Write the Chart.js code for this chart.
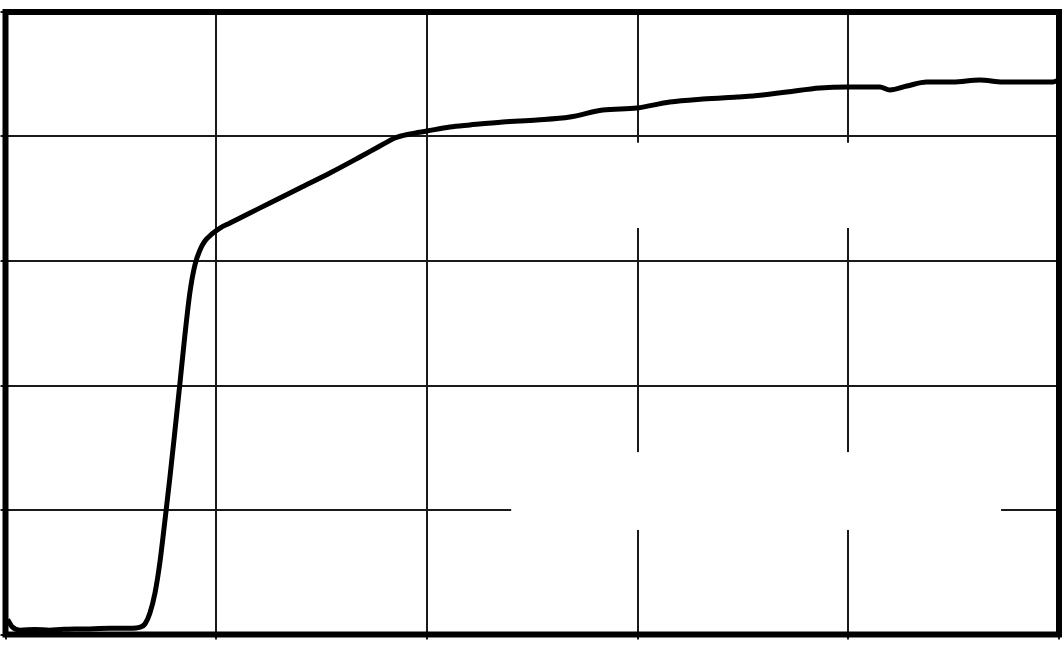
<!DOCTYPE html>
<html>
<head>
<meta charset="utf-8">
<script src="https://cdn.jsdelivr.net/npm/chart.js@4.4.0/dist/chart.umd.min.js"></script>
<style>
  html, body { margin: 0; padding: 0; background: #ffffff; }
  #wrap { width: 1064px; height: 645px; position: relative; }
</style>
</head>
<body>
<div id="wrap"><canvas id="c" width="1064" height="645"></canvas></div>
<script>
// Data (x in percent of the horizontal span, y in percent of the vertical span)
const xValues = [0.2, 0.6, 1.4, 2.8, 4.2, 5.2, 6.6, 8.0, 9.9, 11.8, 12.8, 13.24, 13.71, 14.19, 14.66, 15.14, 15.61, 16.09, 16.56, 17.03, 17.51, 17.98, 18.46, 18.93, 19.60, 20.36, 21.31, 23.20, 25.10, 27.95, 30.80, 33.64, 35.54, 36.97, 38.39, 40.00, 42.18, 44.08, 47.22, 50.44, 53.57, 56.70, 59.93, 63.06, 66.19, 69.42, 70.94, 74.17, 77.30, 79.86, 83.00, 83.94, 85.56, 87.45, 89.92, 92.48, 94.67, 96.95, 99.41, 100];
const yValues = [2.4, 1.3, 0.7, 0.8, 0.7, 0.8, 0.9, 0.9, 1.0, 1.0, 1.2, 1.69, 3.45, 6.67, 11.65, 18.39, 25.30, 32.85, 40.40, 48.11, 55.02, 59.36, 61.77, 63.21, 64.34, 65.30, 66.11, 67.71, 69.32, 71.73, 74.14, 76.71, 78.47, 79.76, 80.40, 80.88, 81.53, 81.85, 82.33, 82.65, 83.13, 84.26, 84.58, 85.54, 86.02, 86.35, 86.51, 87.15, 87.79, 87.95, 87.95, 87.47, 88.11, 88.76, 88.76, 89.08, 88.76, 88.76, 88.76, 89.08];
const xTicks = [0, 20, 40, 60, 80, 100];
const yTicks = [0, 20, 40, 60, 80, 100];
// Blank (erased) regions of the grid, in data units: [x0, x1, y0, y1]
const blankAreas = [[56, 84, 65.3, 79.0], [48.0, 94.5, 16.8, 29.3]];

const points = xValues.map((x, i) => ({ x: x, y: yValues[i] }));

const blankPlugin = {
  id: 'blank',
  beforeDatasetsDraw(chart) {
    const { ctx, scales: { x, y } } = chart;
    ctx.save();
    ctx.fillStyle = '#ffffff';
    blankAreas.forEach(([x0, x1, y0, y1]) => {
      const px0 = x.getPixelForValue(x0), px1 = x.getPixelForValue(x1);
      const py0 = y.getPixelForValue(y1), py1 = y.getPixelForValue(y0);
      ctx.fillRect(px0, py0, px1 - px0, py1 - py0);
    });
    ctx.restore();
  }
};

const framePlugin = {
  id: 'frame',
  afterDatasetsDraw(chart) {
    const { ctx, chartArea: a } = chart;
    ctx.save();
    ctx.strokeStyle = '#000000';
    ctx.lineWidth = 6;
    ctx.strokeRect(a.left, a.top, a.right - a.left, a.bottom - a.top);
    ctx.restore();
  }
};

new Chart(document.getElementById('c'), {
  type: 'line',
  data: {
    datasets: [{
      data: points,
      borderColor: '#000000',
      borderWidth: 5,
      pointRadius: 0,
      cubicInterpolationMode: 'monotone',
      fill: false
    }]
  },
  options: {
    responsive: false,
    animation: false,
    events: [],
    layout: { padding: { left: 0.5, top: 12, right: 5, bottom: 5.5 } },
    plugins: { legend: { display: false }, tooltip: { enabled: false } },
    scales: {
      x: {
        type: 'linear',
        min: 0, max: 100,
        afterBuildTicks: (s) => { s.ticks = xTicks.map(v => ({ value: v })); },
        ticks: { display: false },
        grid: { color: '#1a1a1a', lineWidth: 2, drawTicks: true, tickLength: 5 },
        border: { display: false }
      },
      y: {
        type: 'linear',
        min: 0, max: 100,
        afterBuildTicks: (s) => { s.ticks = yTicks.map(v => ({ value: v })); },
        ticks: { display: false },
        grid: { color: '#1a1a1a', lineWidth: 2, drawTicks: true, tickLength: 5 },
        border: { display: false }
      }
    }
  },
  plugins: [blankPlugin, framePlugin]
});
</script>
</body>
</html>
